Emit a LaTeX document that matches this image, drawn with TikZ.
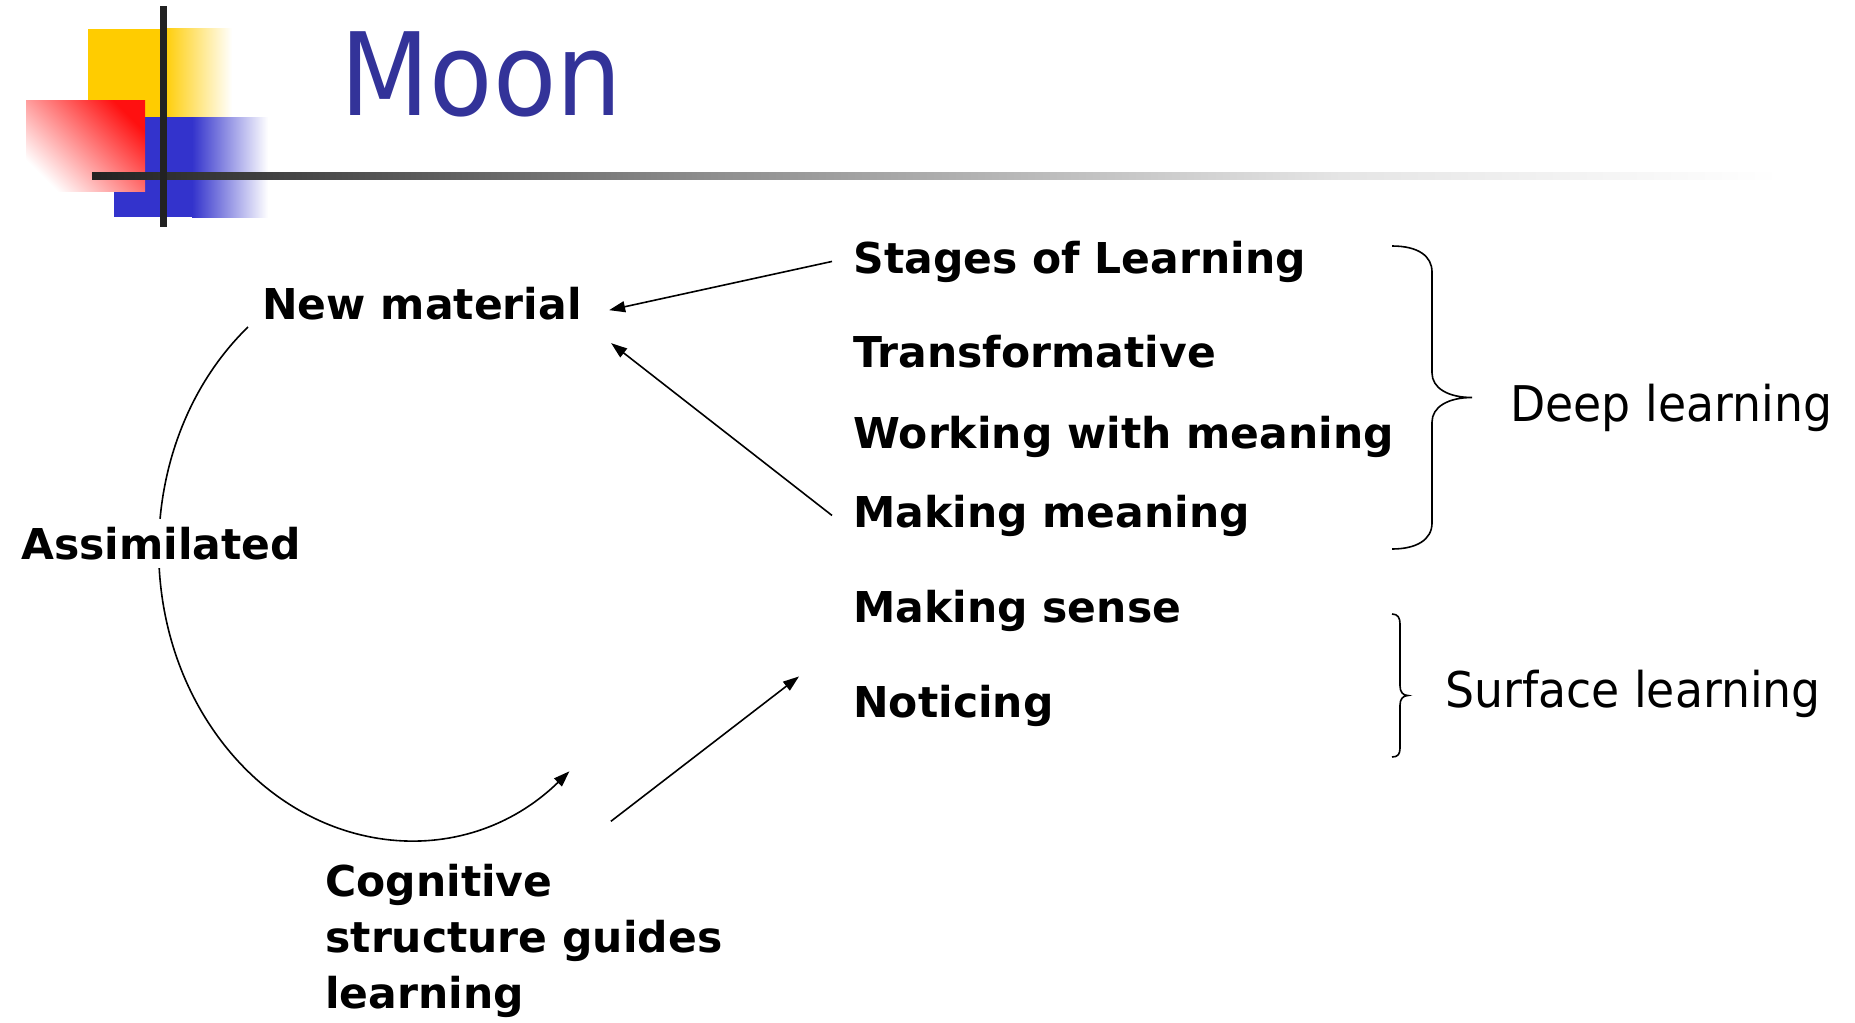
\documentclass[tikz,border=0pt]{standalone}
\usepackage{fontspec}
\setmainfont{DejaVu Sans}
\newfontfamily\sidefont{DejaVu Sans}[FakeStretch=0.93]
\newfontfamily\titlefont{DejaVu Sans}[FakeStretch=0.9]
\usetikzlibrary{arrows.meta}

\definecolor{titleblue}{HTML}{333399}
\definecolor{logoyellow}{HTML}{FFCC00}
\definecolor{logored}{HTML}{FF1010}
\definecolor{logoblue}{HTML}{3333CC}
\definecolor{rulegray}{HTML}{222222}
\definecolor{rulemid}{HTML}{8C8C8C}
\definecolor{rulelight}{HTML}{E5E5E5}
\pgfdeclarehorizontalshading{rulefade}{100bp}{color(0bp)=(rulegray); color(25bp)=(rulegray); color(43bp)=(rulemid); color(62bp)=(rulelight); color(75bp)=(white); color(100bp)=(white)}

\begin{document}
\begin{tikzpicture}[x=0.5pt, y=-0.5pt,
    lbl/.style={font=\fontsize{21.25}{28}\selectfont\bfseries, inner sep=0pt, anchor=base west, align=left},
    side/.style={font=\sidefont\fontsize{24.6}{30}\selectfont, inner sep=0pt, anchor=base west},
    arr/.style={-{Triangle[length=8pt,width=5.5pt]}, line width=0.8pt},
    brace/.style={line width=0.8pt}
  ]
    \useasboundingbox (0,0) rectangle (1855,1022);

    % logo and title rule
    \fill[logoyellow] (88,29) rectangle (163,117);
    \shade[left color=logoyellow, right color=white] (163,29) rectangle (232,117);
    \fill[logoblue] (114,117) rectangle (192,217);
    \shade[left color=logoblue, right color=white] (192,117) rectangle (268,217);
    \shade[top color=logored, bottom color=white, shading angle=-45] (26,101) rectangle (145,191);
    \shade[shading=rulefade] (92,172) rectangle (1780,179);
    \fill[rulegray] (160,6) rectangle (167,227);
    \node[font=\titlefont\fontsize{57.5}{60}\selectfont, text=titleblue, inner sep=0pt, anchor=base west] (title) at (340,116) {Moon};

    \node[lbl] (stages) at (853,273) {Stages of Learning};
    \node[lbl] (transf) at (853,367) {Transformative};
    \node[lbl] (working) at (853,448) {Working with meaning};
    \node[lbl] (meaning) at (853,527) {Making meaning};
    \node[lbl] (sense) at (853,622) {Making sense};
    \node[lbl] (noticing) at (853,717) {Noticing};
    \node[lbl] (newmat) at (262,319) {New material};
    % base of a multi-line node sits on its last line
    \node[lbl] (cogn) at (325,1008) {Cognitive\\structure guides\\learning};
    \node[side] (deep) at (1510,421) {Deep learning};
    \node[side] (surface) at (1445,707) {Surface learning};

    \draw[arr] ([shift={(-14,7)}]newmat.south west) arc[start angle=230, end angle=50, x radius=250, y radius=290];
    \node[lbl, fill=white, inner ysep=4pt] (assim) at (21,559) {Assimilated};

    \draw[arr] ([shift={(-21,0)}]stages.west) -- ([shift={(27,7)}]newmat.east);
    \draw[arr] ([shift={(-21,0)}]meaning.west) -- ([shift={(29,40)}]newmat.east);
    \draw[arr] ([shift={(87,-42)}]cogn.north) -- ([shift={(-54,-29)}]noticing.west);

    \draw[brace] (1392,246) .. controls (1418,246) and (1432,256) .. (1432,272) -- (1432,373)
      .. controls (1432,388) and (1448,397.5) .. (1472,397.5)
      .. controls (1448,397.5) and (1432,407) .. (1432,422) -- (1432,523)
      .. controls (1432,540) and (1416,549) .. (1392,549);
    \draw[brace] (1392,614) .. controls (1398,614) and (1400,618) .. (1400,624) -- (1400,686)
      .. controls (1400,692) and (1403,695.5) .. (1408,695.5)
      .. controls (1403,695.5) and (1400,699) .. (1400,705) -- (1400,748)
      .. controls (1400,754) and (1398,757) .. (1392,757);
\end{tikzpicture}
\end{document}
